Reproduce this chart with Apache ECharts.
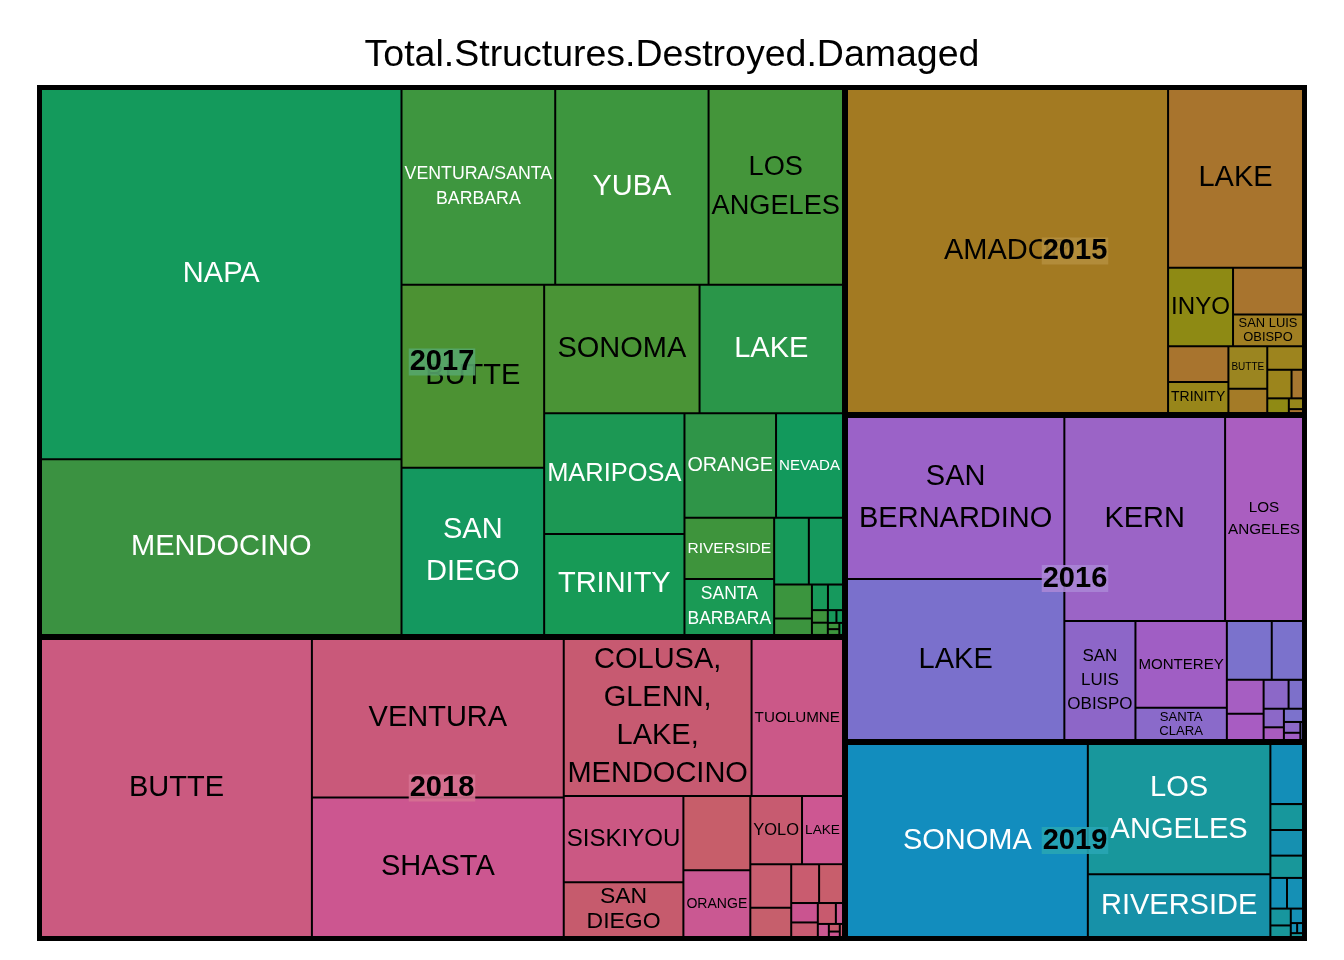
<!DOCTYPE html>
<html>
<head>
<meta charset="utf-8">
<script src="https://cdn.jsdelivr.net/npm/echarts@6/dist/echarts.min.js"></script>
<style>html,body{margin:0;padding:0;background:#fff}#c{width:1344px;height:960px}</style>
</head>
<body>
<div id="c"></div>
<script>
// ---------------- data ----------------
const titleText = 'Total.Structures.Destroyed.Damaged';
const years = ['2015', '2016', '2017', '2018', '2019'];

// '' = cell whose label is not printed in the reference
const names2015 = ['AMADOR', 'LAKE', 'INYO', '', 'SAN LUIS OBISPO', '', 'TRINITY', 'BUTTE', '', '', '', '', '', '', ''];
const values2015 = [105000, 24360, 5135, 3290, 2240, 2183, 1888, 1672, 950, 851, 700, 330, 320, 154, 56];

const names2016 = ['SAN BERNARDINO', 'LAKE', 'KERN', 'LOS ANGELES', 'SAN LUIS OBISPO', 'MONTEREY', 'SANTA CLARA', '', '', '', '', '', '', '', '', '', '', '', ''];
const values2016 = [35534, 35316, 33089, 16037, 8540, 8010, 2970, 2668, 1856, 1260, 972, 728, 420, 380, 260, 255, 180, 120, 48];

const names2017 = ['NAPA', 'MENDOCINO', 'VENTURA/SANTA BARBARA', 'YUBA', 'LOS ANGELES', 'BUTTE', 'SAN DIEGO', 'SONOMA', 'LAKE', 'MARIPOSA', 'TRINITY', 'ORANGE', 'NEVADA', 'RIVERSIDE', 'SANTA BARBARA', '', '', '', '', '', '', '', '', '', '', '', '', ''];
const values2017 = [133560, 63360, 30100, 30030, 26325, 26128, 23856, 19968, 18432, 16958, 14178, 9579, 7004, 5504, 5016, 2320, 2284, 1280, 625, 410, 385, 200, 195, 110, 84, 72, 67, 44];

const names2018 = ['BUTTE', 'VENTURA', 'SHASTA', 'COLUSA, GLENN, LAKE, MENDOCINO', 'TUOLUMNE', 'SISKIYOU', 'SAN DIEGO', '', 'ORANGE', 'YOLO', 'LAKE', '', '', '', '', '', '', '', '', '', '', '', ''];
const values2018 = [81270, 40160, 35391, 29673, 14444, 10384, 6608, 5016, 4488, 3551, 2814, 1800, 1200, 1092, 936, 520, 390, 380, 150, 145, 84, 60, 42];

const names2019 = ['SONOMA', 'LOS ANGELES', 'RIVERSIDE', '', '', '', '', '', '', '', '', '', '', '', ''];
const values2019 = [47300, 24200, 11650, 1995, 860, 850, 740, 518, 500, 350, 240, 180, 65, 60, 48];

// ---------------- styles ----------------
const colors2015 = ['#A37A22', '#A8742D', '#8E8A14', '#A8742E', '#A07F22', '#A8742E', '#98861A', '#9B8520', '#A47B27', '#9D841E', '#9C851C', '#A77730', '#8F8A14', '#96871B', '#A8742E'];
const colors2016 = ['#9B62C8', '#7A70CC', '#9B64C6', '#AA5EC0', '#8D66C8', '#A05EC4', '#8A6ACA', '#7B72CC', '#7B72CC', '#A65EC2', '#A85CC2', '#8C68C8', '#7D70CA', '#8C68C8', '#A85CBE', '#7C72CC', '#8C68C8', '#A05EC4', '#7A72CC'];
const colors2017 = ['#149A5C', '#3B9241', '#3E963F', '#3D963E', '#44953A', '#4C9233', '#14985F', '#4A9436', '#2A9649', '#1C9854', '#179A56', '#2F9548', '#12995C', '#3E943C', '#1A9A55', '#179A5A', '#15995D', '#3B953E', '#3C943E', '#18995A', '#16995D', '#3E943C', '#3D953D', '#17995A', '#14995C', '#3D953D', '#3D953D', '#179A5A'];
const colors2018 = ['#CB5A80', '#C9597A', '#CC5690', '#C75A71', '#CB5888', '#CB5883', '#C65B6D', '#C75E6A', '#CA5892', '#C75B70', '#CD5792', '#C85E70', '#C65F6C', '#C95C6F', '#C85E6C', '#CA5490', '#C85B72', '#C85A6E', '#CA5890', '#CA5891', '#C85A6C', '#CC5590', '#C85A70'];
const colors2019 = ['#128DBE', '#18979C', '#1791A8', '#138EB8', '#17979C', '#1690B0', '#18979A', '#1490B8', '#1590B5', '#17969E', '#18979A', '#1590B6', '#1590B6', '#1590B6', '#18979A'];
const darkText2017 = ['NAPA', 'MENDOCINO', 'VENTURA/SANTA BARBARA', 'YUBA', 'SAN DIEGO', 'LAKE', 'MARIPOSA', 'TRINITY', 'ORANGE', 'NEVADA', 'RIVERSIDE', 'SANTA BARBARA'];
const whiteTextYears = { '2019': true };
const yearBoxColors = { '2015': 'rgba(180,142,62,0.88)', '2016': 'rgba(170,134,214,0.88)', '2017': 'rgba(86,166,108,0.88)', '2018': 'rgba(214,114,146,0.88)', '2019': 'rgba(40,166,180,0.88)' };

const yearTable = [
  { year: '2015', names: names2015, values: values2015, colors: colors2015 },
  { year: '2016', names: names2016, values: values2016, colors: colors2016 },
  { year: '2017', names: names2017, values: values2017, colors: colors2017 },
  { year: '2018', names: names2018, values: values2018, colors: colors2018 },
  { year: '2019', names: names2019, values: values2019, colors: colors2019 }
];

const LEFT = 37, TOP = 85, WIDTH = 1270, HEIGHT = 856;
const ROOT_B = 2, YEAR_B = 2, LEAF_B = 1;
const MAXF = 29, MINF = 9, PAD = 4;
const FONT = '"Liberation Sans", Arial, Helvetica, sans-serif';

// ---------------- pivot-by-size nesting (as in R treemap) ----------------
const groupSet = new Set();
function sum(a) { return a.reduce((s, x) => s + x.value, 0); }
function group(children) {
  const g = { name: '', children: children, itemStyle: { borderWidth: 0, gapWidth: 0 } };
  groupSet.add(g);
  return g;
}
function pivot(items, W, H) {
  if (items.length === 1) return items[0].build(W, H);
  const total = sum(items);
  const wide = W >= H;
  const P = items[0].value;
  let bestK = 0, bestAR = Infinity, s = 0;
  for (let k = 0; k < items.length; k++) {
    s += items[k].value;
    let pw, ph;
    if (wide) { pw = s / total * W; ph = P / s * H; }
    else { ph = s / total * H; pw = P / s * W; }
    const ar = Math.max(pw / ph, ph / pw);
    if (ar < bestAR) { bestAR = ar; bestK = k; }
  }
  const first = items.slice(0, bestK + 1), rest = items.slice(bestK + 1);
  const s1 = sum(first);
  let W1, H1, W3, H3;
  if (wide) { W1 = s1 / total * W; H1 = H; W3 = W - W1; H3 = H; }
  else { W1 = W; H1 = s1 / total * H; W3 = W; H3 = H - H1; }
  let firstNode;
  if (first.length === 1) firstNode = first[0].build(W1, H1);
  else {
    const share = P / s1;
    let Wp, Hp, W2, H2;
    if (wide) { Wp = W1; Hp = share * H1; W2 = W1; H2 = H1 - Hp; }
    else { Hp = H1; Wp = share * W1; H2 = H1; W2 = W1 - Wp; }
    firstNode = group([first[0].build(Wp, Hp), pivot(first.slice(1), W2, H2)]);
  }
  if (!rest.length) return firstNode;
  return group([firstNode, pivot(rest, W3, H3)]);
}
function childrenOf(res) { return groupSet.has(res) ? res.children : [res]; }

const leafSet = new Set(), yearSet = new Set();
function buildYear(y, w, h) {
  const items = y.names.map((n, i) => ({
    value: y.values[i],
    build: () => {
      const leaf = {
        name: n, value: y.values[i],
        itemStyle: { color: y.colors[i], borderWidth: LEAF_B, borderColor: '#000', gapWidth: 0 },
        label: { show: false }
      };
      leaf._year = y.year;
      leafSet.add(leaf);
      return leaf;
    }
  })).sort((a, b) => b.value - a.value);
  const res = pivot(items, w - 2 * YEAR_B, h - 2 * YEAR_B);
  const node = { name: y.year, children: childrenOf(res), itemStyle: { borderWidth: YEAR_B, borderColor: '#000', gapWidth: 0 } };
  yearSet.add(node);
  return node;
}
const yearItems = yearTable.map(y => ({ value: y.values.reduce((a, b) => a + b, 0), build: (w, h) => buildYear(y, w, h) }))
  .sort((a, b) => b.value - a.value);
const rootData = childrenOf(pivot(yearItems, WIDTH - 2 * ROOT_B, HEIGHT - 2 * ROOT_B));

// ---------------- label fitting ----------------
const ctx = document.createElement('canvas').getContext('2d');
function textW(s) { ctx.font = '100px ' + FONT; return ctx.measureText(s).width / 100; }
function fitLabel(name, w, h) {
  const words = name.split(' ');
  const n = words.length;
  let best = null;
  for (let mask = 0; mask < (1 << (n - 1)); mask++) {
    const lines = []; let cur = words[0];
    for (let i = 1; i < n; i++) {
      if (mask & (1 << (i - 1))) { lines.push(cur); cur = words[i]; } else cur += ' ' + words[i];
    }
    lines.push(cur);
    const mw = Math.max.apply(null, lines.map(textW));
    const fs = Math.min(MAXF, (w - PAD) / mw, h / (lines.length * 1.15));
    if (!best || fs > best.fs + 0.01 || (Math.abs(fs - best.fs) <= 0.01 && lines.length < best.lines.length)) best = { fs: fs, lines: lines };
  }
  return best;
}

// ---------------- chart ----------------
const chart = echarts.init(document.getElementById('c'), null, { renderer: 'canvas' });
function makeOption(graphics) {
  return {
    animation: false,
    title: {
      text: titleText, left: 'center', top: 32,
      textStyle: { fontSize: 37.5, fontWeight: 'normal', color: '#000', fontFamily: FONT }
    },
    tooltip: { show: false },
    graphic: { elements: graphics || [] },
    series: [{
      type: 'treemap',
      left: LEFT, top: TOP, width: WIDTH, height: HEIGHT,
      roam: false, nodeClick: false, silent: true,
      sort: false, squareRatio: 1, visibleMin: 0,
      breadcrumb: { show: false },
      upperLabel: { show: false },
      itemStyle: { borderWidth: 0, gapWidth: 0, borderColor: '#000' },
      label: { show: true, position: 'inside', padding: 0, overflow: 'none', lineOverflow: 'none', fontFamily: FONT, color: '#000' },
      levels: [{ itemStyle: { borderWidth: ROOT_B, borderColor: '#000', gapWidth: 0 } }],
      data: rootData
    }]
  };
}
chart.setOption(makeOption());

const series = chart.getModel().getSeriesByIndex(0);
const tree = series.getData().tree;
const li = series.layoutInfo || { x: LEFT, y: TOP };
const graphics = [];
function walk(node, item, ox, oy) {
  const l = node.getLayout();
  if (!l) return;
  const ax = ox + l.x, ay = oy + l.y;
  if (leafSet.has(item) && item.name) {
    const w = l.width - 2 * LEAF_B, h = l.height - 2 * LEAF_B;
    const f = fitLabel(item.name, w, h);
    if (f && f.fs >= MINF) {
      const dark = whiteTextYears[item._year] || (item._year === '2017' && darkText2017.indexOf(item.name) >= 0);
      const lh = Math.max(f.fs * 1.0, Math.min(f.fs * 1.45, (h - 1) / f.lines.length));
      item.label = {
        show: true, formatter: f.lines.join('\n'), fontSize: f.fs, lineHeight: Math.floor(lh),
        color: dark ? '#FFFFFF' : '#000000', fontFamily: FONT, overflow: 'none', lineOverflow: 'none'
      };
    }
  }
  if (yearSet.has(item)) {
    graphics.push({
      type: 'text', z: 100, x: ax + l.width / 2, y: ay + l.height / 2,
      style: {
        text: item.name, fontSize: 29, fontWeight: 'bold', fontFamily: FONT, fill: '#000',
        align: 'center', verticalAlign: 'middle', backgroundColor: yearBoxColors[item.name],
        padding: [1, 1, 0, 1], lineHeight: 26
      }
    });
  }
  if (item.children && node.children) item.children.forEach((c, i) => { if (node.children[i]) walk(node.children[i], c, ax, ay); });
}
const rl = tree.root.getLayout() || { x: 0, y: 0 };
tree.root.children.forEach((c, i) => walk(c, rootData[i], li.x + rl.x, li.y + rl.y));
chart.setOption(makeOption(graphics), true);
</script>
</body>
</html>
